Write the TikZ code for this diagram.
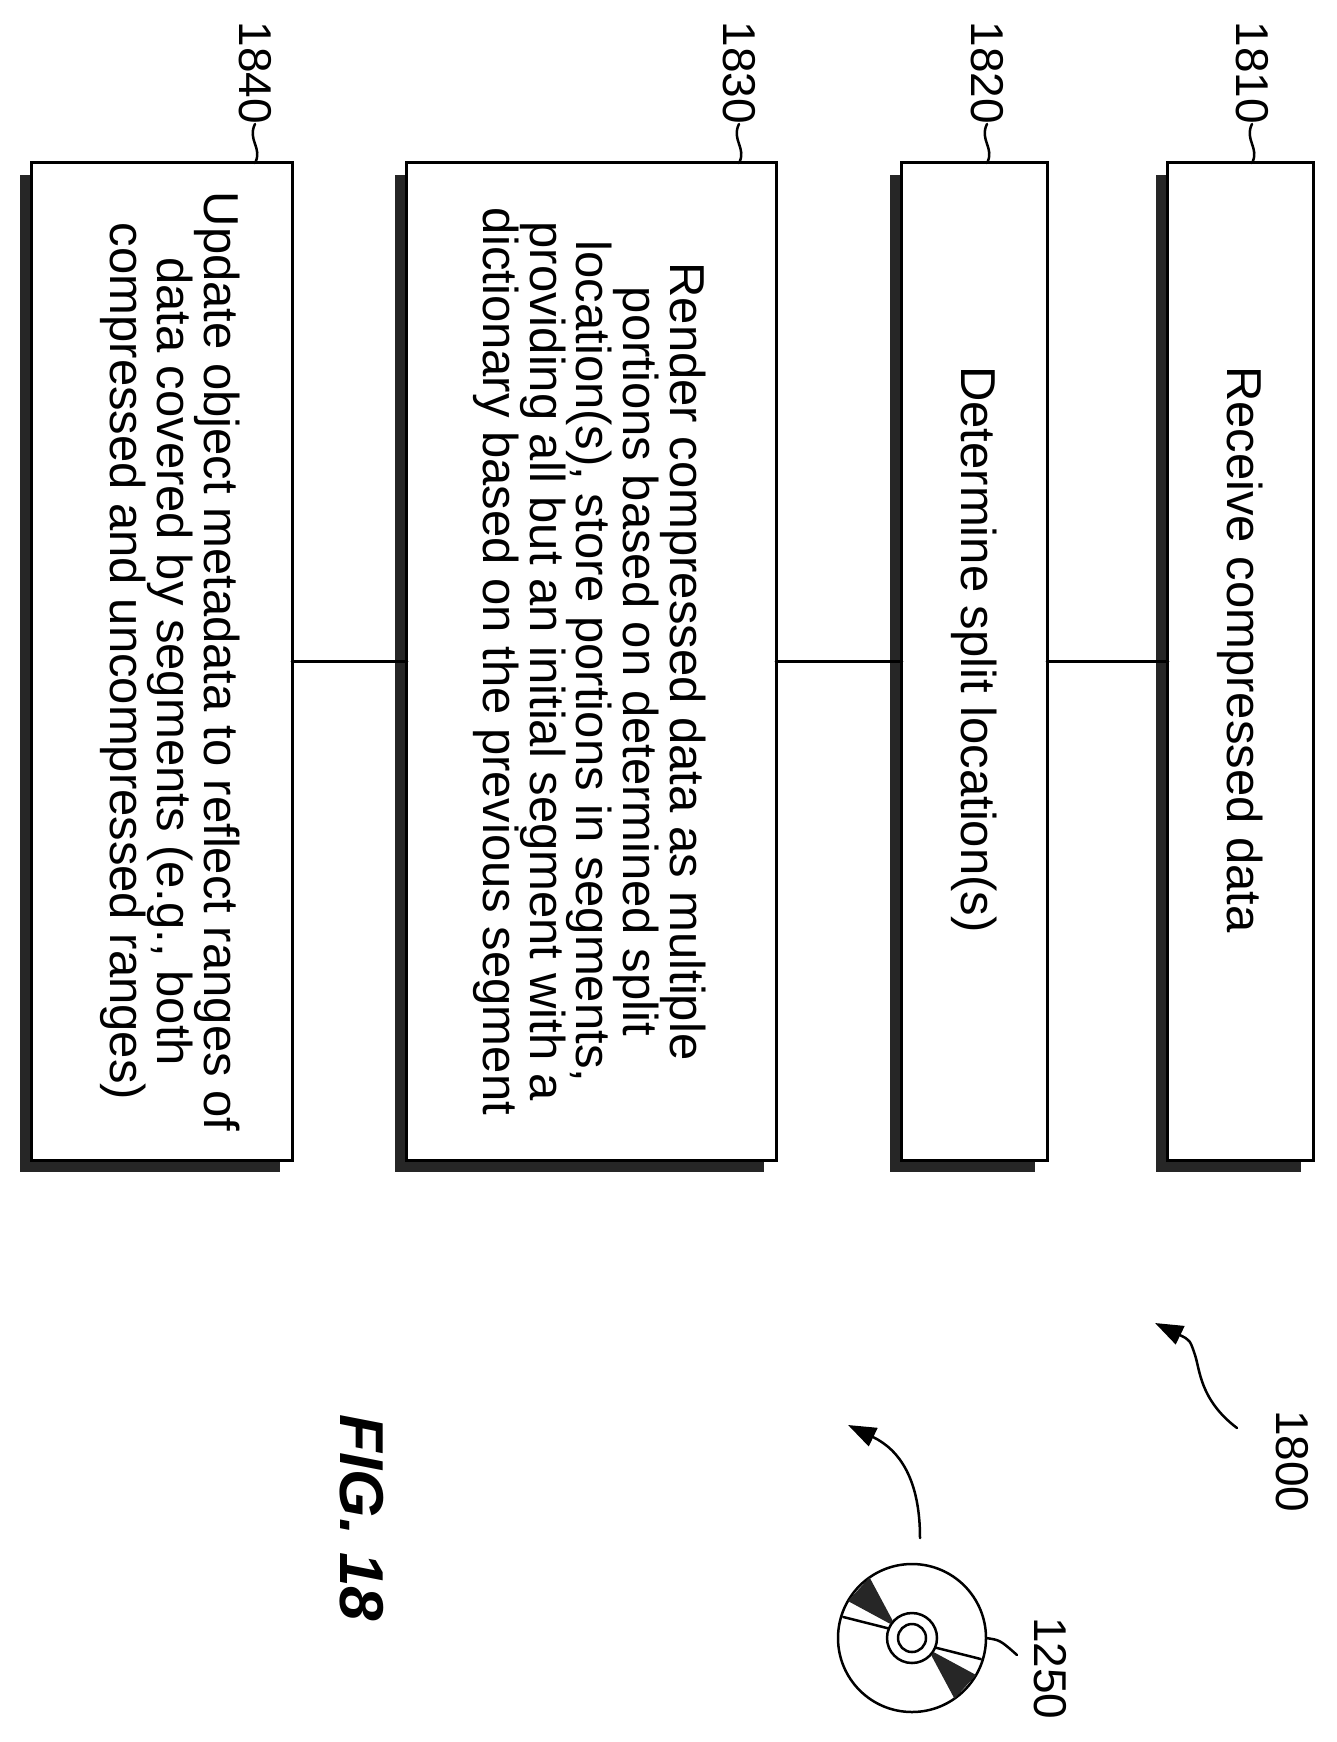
\documentclass[tikz,border=0pt]{standalone}
\usepackage{fontspec}
\setmainfont{Liberation Sans}
\usetikzlibrary{arrows.meta}
\usetikzlibrary{calc}
\usetikzlibrary{positioning}

\begin{document}
\begin{tikzpicture}[x=1pt, y=1pt, line cap=round,
    box/.style={rotate=-90, inner sep=0pt, minimum width=997pt},
    shadow/.style={fill=black!85},
    txt/.style={rotate=-90, align=center, font=\fontsize{49}{44}\selectfont},
    num/.style={rotate=-90, font=\fontsize{46}{46}\selectfont, inner sep=0pt},
    lead/.style={line width=2.5pt}]
    % fig. 18 flow
    \useasboundingbox (0,0) rectangle (1337,-1742);

    \def\ytop{-163}
    \def\ymid{-661.5}

    \coordinate (c1) at (1240.5, \ymid);
    \coordinate (c2) at (974.5, \ymid);
    \coordinate (c3) at (591.5, \ymid);
    \coordinate (c4) at (162, \ymid);

    \node[box, minimum height=145pt] (b1) at (c1) {};
    \node[box, minimum height=145pt] (b2) at (c2) {};
    \node[box, minimum height=369pt] (b3) at (c3) {};
    \node[box, minimum height=260pt] (b4) at (c4) {};

    % shadows
    \foreach \b in {b1, b2, b3, b4}{
        \fill[shadow] ([shift={(-12,-12)}]\b.south east) rectangle ([shift={(-12,-12)}]\b.north west);
        \fill[white, draw=black, line width=3pt] (\b.south east) rectangle (\b.north west);
    };

    \node[txt] (t1) at ($(c1)+(0,12)$) {Receive compressed data};
    \node[txt] (t2) at ($(c2)+(0,12)$) {Determine split location(s)};
    \node[txt] (t3) at ($(c3)+(-2,0)$)
        {Render compressed data as multiple\\ portions based on determined split\\ location(s), store portions in segments,\\
         providing all but an initial segment with a\\ dictionary based on the previous segment};
    \node[txt] (t4) at ($(c4)+(8,0)$)
        {Update object metadata to reflect ranges of\\ data covered by segments (e.g., both\\ compressed and uncompressed ranges)};

    % connectors
    \draw[line width=3pt] (b1.south) -- (b2.north);
    \draw[line width=3pt] (b2.south) -- (b3.north);
    \draw[line width=3pt] (b3.south) -- (b4.north);

    % reference numerals
    \node[num, anchor=east] (n1) at (1252, -124) {1810};
    \node[num, anchor=east] (n2) at (987, -124) {1820};
    \node[num, anchor=east] (n3) at (739, -124) {1830};
    \node[num, anchor=east] (n4) at (255, -124) {1840};
    \foreach \n/\x in {n1/1252, n2/987, n3/739, n4/255}{
        \draw[lead] (\n.east) .. controls (\x-8, -140) and (\x+8, -148) .. (\x, \ytop);
    };

    \node[num, anchor=west] (n0) at (1292, -1410) {1800};
    \coordinate (a0) at (1237, -1428);
    \coordinate (h0) at (1155, -1323);
    \draw[lead, -{Triangle[length=28pt, width=20pt]}] (a0) .. controls (1200, -1400) and (1200, -1370) .. (1195, -1355)
        .. controls (1190, -1340) .. (h0);

    % disc
    \coordinate (d) at (912, -1638);
    \draw[line width=2.5pt] (d) circle (74);
    \draw[line width=2.5pt] (d) circle (25);
    \draw[line width=2.5pt] (d) circle (14);
    \fill[black!85] ($(d)+(147:26)$) -- ($(d)+(138:26)$) -- ($(d)+(125:74)$) -- ($(d)+(150:74)$) -- cycle;
    \fill[black!85] ($(d)+(-33:26)$) -- ($(d)+(-42:26)$) -- ($(d)+(-55:74)$) -- ($(d)+(-30:74)$) -- cycle;
    \draw[lead] ($(d)+(158:26)$) -- ($(d)+(163:72)$);
    \draw[lead] ($(d)+(-22:26)$) -- ($(d)+(-17:72)$);
    \node[num, anchor=west] (n5) at (1050, -1617) {1250};
    \draw[lead] ($(d)+(0:74)$) .. controls (1000, -1640) .. (1017, -1655);
    \coordinate (a5) at (920, -1538);
    \coordinate (h5) at (848, -1425);
    \draw[lead, -{Triangle[length=28pt, width=20pt]}] (a5) .. controls (920, -1480) and (900, -1450) .. (h5);

    \node[rotate=-90, font=\fontsize{62}{62}\selectfont\bfseries\itshape] (fig) at (362, -1518) {FIG. 18};
\end{tikzpicture}
\end{document}
